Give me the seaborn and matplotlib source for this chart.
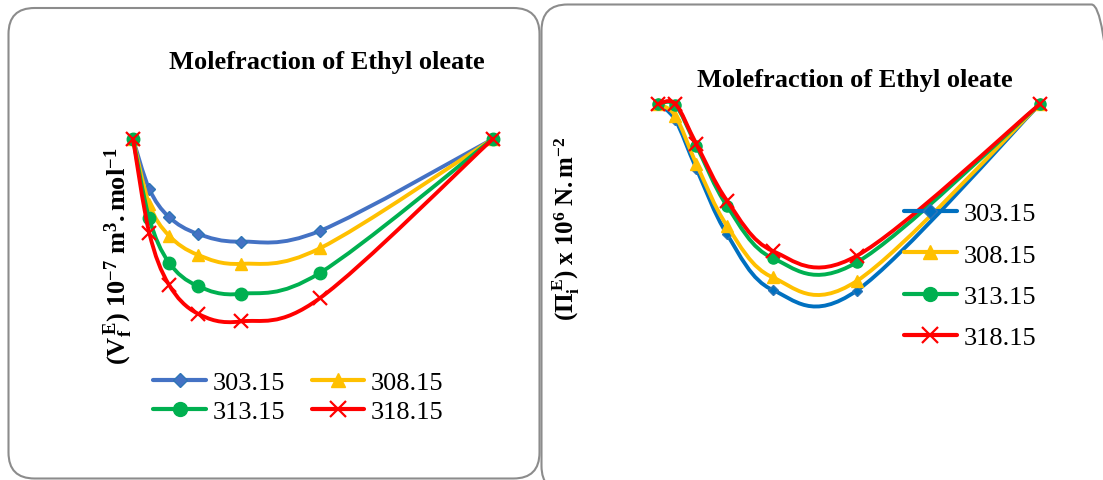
import numpy as np
import pandas as pd
import matplotlib
matplotlib.use("Agg")
import matplotlib.pyplot as plt
import seaborn as sns
from matplotlib.path import Path
from matplotlib.patches import PathPatch, FancyBboxPatch
from matplotlib.lines import Line2D
from matplotlib.transforms import IdentityTransform

# mole fraction of ethyl oleate (x axis is hidden in the original)
x_frac = [0, 0.045, 0.1, 0.18, 0.3, 0.52, 1.0]
temps = ["303.15", "308.15", "313.15", "318.15"]

# excess free volume, 10^-7 m3/mol
vf_303 = [0, -0.83, -1.30, -1.58, -1.71, -1.53, 0]
vf_308 = [0, -1.08, -1.61, -1.93, -2.08, -1.82, 0]
vf_313 = [0, -1.32, -2.06, -2.45, -2.58, -2.23, 0]
vf_318 = [0, -1.56, -2.43, -2.91, -3.04, -2.65, 0]

# excess internal pressure, x 10^6 N/m2
pi_303 = [0, -0.27, -1.08, -2.17, -3.10, -3.11, 0]
pi_308 = [0, -0.20, -1.00, -2.03, -2.89, -2.95, 0]
pi_313 = [0, -0.02, -0.70, -1.70, -2.57, -2.64, 0]
pi_318 = [0, 0.00, -0.67, -1.61, -2.45, -2.53, 0]

sns.set_style("white")
plt.rcParams["font.family"] = ["Liberation Serif", "DejaVu Serif"]
plt.rcParams["text.color"] = "black"
plt.rcParams["mathtext.fontset"] = "custom"
plt.rcParams["mathtext.rm"] = "Liberation Serif"
plt.rcParams["mathtext.bf"] = "Liberation Serif:bold"
plt.rcParams["mathtext.it"] = "Liberation Serif:italic"
plt.rcParams["mathtext.bfit"] = "Liberation Serif:italic:bold"

colors_left = ["#4472C4", "#FFC000", "#00B050", "#FF0000"]
colors_right = ["#0070C0", "#FFC000", "#00B050", "#FF0000"]
markers = ["D", "^", "o", "x"]


def smooth_path(xs, ys):
    # excel style smoothed line: catmull-rom turned into cubic beziers
    pts = np.column_stack([xs, ys]).astype(float)
    verts = [pts[0]]
    codes = [Path.MOVETO]
    n = len(pts)
    for i in range(n - 1):
        p0 = pts[max(i - 1, 0)]
        p1 = pts[i]
        p2 = pts[i + 1]
        p3 = pts[min(i + 2, n - 1)]
        c1 = p1 + (p2 - p0) / 6.0
        c2 = p2 - (p3 - p1) / 6.0
        verts += [c1, c2, p2]
        codes += [Path.CURVE4] * 3
    return Path(verts, codes)


def draw_panel(ax, df, colors, msizes):
    for i, t in enumerate(temps):
        sub = df[df["T"] == t]
        ax.add_patch(PathPatch(smooth_path(sub["x"], sub["y"]), facecolor="none",
                               edgecolor=colors[i], lw=2.8, zorder=2 + i,
                               capstyle="round", joinstyle="round"))
        mec = "#2E75B6" if markers[i] == "D" else colors[i]
        ax.plot(sub["x"], sub["y"], ls="none", marker=markers[i], ms=msizes[i],
                color=colors[i], mec=mec, mew=1.6 if markers[i] == "x" else 1.0,
                zorder=2 + i, clip_on=False)
    ax.set_xlim(-0.05, 1.05)
    ax.set_ylim(-3.5, 0.5)
    ax.set_axis_off()


def long_df(series):
    rows = []
    for t, vals in zip(temps, series):
        for xv, yv in zip(x_frac, vals):
            rows.append({"T": t, "x": xv, "y": yv})
    return pd.DataFrame(rows)


df_vf = long_df([vf_303, vf_308, vf_313, vf_318])
df_pi = long_df([pi_303, pi_308, pi_313, pi_318])

fig = plt.figure(figsize=(11.03, 4.81), dpi=100)

# rounded chart frames in pixel coords
fig.patches.append(FancyBboxPatch((8.5, 1.5), 531, 470.5,
                                  boxstyle="round,pad=0,rounding_size=26",
                                  transform=IdentityTransform(), facecolor="none",
                                  edgecolor="#8C8C8C", lw=1.5, figure=fig, zorder=-1))
fig.patches.append(FancyBboxPatch((541.5, -12), 576, 487.5,
                                  boxstyle="round,pad=0,rounding_size=26",
                                  transform=IdentityTransform(), facecolor="none",
                                  edgecolor="#8C8C8C", lw=1.5, figure=fig, zorder=-1))

ax1 = fig.add_axes([0.1043, 0.2723, 0.3587, 0.499])
draw_panel(ax1, df_vf, colors_left, [6.5, 9, 9, 10])
ax2 = fig.add_axes([0.5795, 0.3451, 0.3807, 0.499])
draw_panel(ax2, df_pi, colors_right, [5.5, 8, 8, 10])

fig.text(0.296, 1 - 63 / 481, "Molefraction of Ethyl oleate", ha="center", va="center",
         fontsize=19, fontweight="bold")
fig.text(0.775, 1 - 80 / 481, "Molefraction of Ethyl oleate", ha="center", va="center",
         fontsize=19, fontweight="bold")

fig.text(118 / 1103, 1 - 256 / 481, r"$\mathbf{(V_f^{\,E})\ 10^{-7}\ m^3{.}mol^{-1}}$",
         rotation=90, ha="center", va="center", fontsize=19)
fig.text(566 / 1103, 1 - 229 / 481, r"$\mathbf{(\Pi_i^{\,E})\ x\ 10^6\ N{.}m^{-2}}$",
         rotation=90, ha="center", va="center", fontsize=18)


def handles(colors, msizes):
    hs = []
    for i in range(4):
        mec = "#2E75B6" if markers[i] == "D" else colors[i]
        hs.append(Line2D([], [], color=colors[i], lw=3, marker=markers[i], ms=msizes[i],
                         mec=mec, mew=1.6 if markers[i] == "x" else 1.0))
    return hs


# two column legend filled row-wise like the original
hl = handles(colors_left, [7, 10, 10, 11])
order = [0, 2, 1, 3]
fig.legend([hl[k] for k in order], [temps[k] for k in order], loc="center",
           bbox_to_anchor=(0.2706, 0.1725), ncol=2, frameon=False, fontsize=19,
           handlelength=2.0, handletextpad=0.25, columnspacing=1.0, labelspacing=0.2,
           borderpad=0)
fig.legend(handles(colors_right, [7, 10, 10, 11]), temps, loc="center",
           bbox_to_anchor=(0.8794, 0.4252), ncol=1, frameon=False, fontsize=19,
           handlelength=2.0, handletextpad=0.25, labelspacing=0.68, borderpad=0)

fig.savefig("out.png", dpi=100)
